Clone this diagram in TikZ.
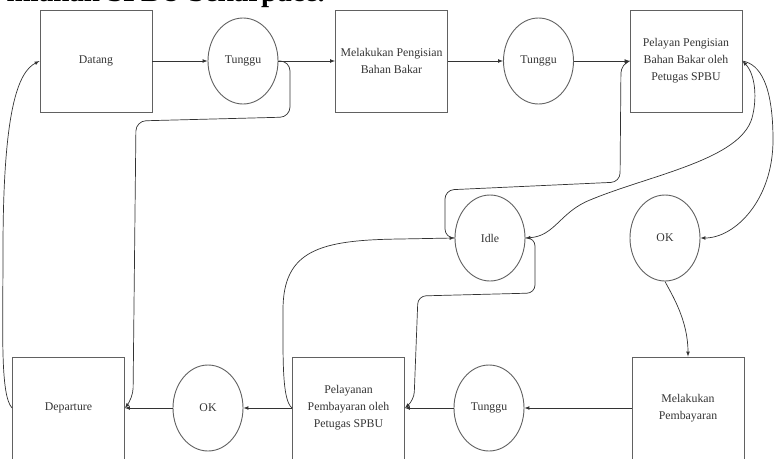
\documentclass[tikz,border=0pt]{standalone}
\usepackage{fontspec}
\setmainfont{Liberation Serif}
\usepackage{tikz}
\usetikzlibrary{shapes.geometric}
\definecolor{linegray}{rgb}{0.38,0.38,0.38}
\definecolor{textgray}{rgb}{0.2,0.2,0.2}

\begin{document}
\begin{tikzpicture}[x=1pt, y=-1pt,
    box/.style={draw=linegray, line width=0.9pt, minimum width=112pt, minimum height=102pt,
      inner sep=2pt, align=center, text=textgray, font=\fontsize{11.8}{17}\selectfont},
    state/.style={ellipse, draw=linegray, line width=0.9pt, minimum width=70pt, minimum height=86pt,
      inner sep=0pt, text=textgray, font=\fontsize{11.8}{17}\selectfont},
    flow/.style={-latex, draw=black!80, line width=0.7pt}]
    \useasboundingbox (0,0) rectangle (774,458);
    \clip (0,0) rectangle (774,458);

    %% Cut-off line of the page above
    \node[anchor=base east, inner sep=0pt, font=\fontsize{29}{30}\selectfont\bfseries] (caption) at (325,1) {mlahan SPBU Sekarpace.};

    %% Top row
    \node[box] (datang) at (96,61) {Datang};
    \node[state] (tunggu1) at (243,61) {Tunggu};
    \node[box] (isi) at (391.5,61) {Melakukan Pengisian\\Bahan Bakar};
    \node[state] (tunggu2) at (538.5,61) {Tunggu};
    \node[box] (pelayan) at (686,61) {Pelayan Pengisian\\Bahan Bakar oleh\\Petugas SPBU};

    %% Middle row
    \node[state] (idle) at (490,238) {Idle};
    \node[state] (okA) at (665,238) {OK};

    %% Bottom row
    \node[box] (departure) at (68.5,408) {Departure};
    \node[state] (okB) at (208,408) {OK};
    \node[box] (ppemb) at (348.5,408) {Pelayanan\\Pembayaran oleh\\Petugas SPBU};
    \node[state] (tunggu3) at (489,408) {Tunggu};
    \node[box] (mbayar) at (688,408) {Melakukan\\Pembayaran};

    %% Straight flows
    \draw[flow] (datang) -- (tunggu1);
    \draw[flow] (tunggu1) -- (isi);
    \draw[flow] (isi) -- (tunggu2);
    \draw[flow] (tunggu2) -- (pelayan);
    \draw[flow] (mbayar) -- (tunggu3);
    \draw[flow] (tunggu3) -- (ppemb);
    \draw[flow] (ppemb) -- (okB);
    \draw[flow] (okB) -- (departure);

    %% Curved flows
    \draw[flow, rounded corners=10pt] (tunggu1.east) -- (290,61) -- (290,117) -- (136,121) -- (133,398) -- (departure.east);
    \draw[flow] (departure.west) .. controls (0,395) and (3,330) .. (3,250) .. controls (3,110) and (18,72) .. (datang.west);
    \draw[flow, rounded corners=9pt] (idle.west) -- (445,238) -- (445,190) -- (620,182) -- (621,64) -- (pelayan.west);
    \draw[flow, latex-latex] (pelayan.east) .. controls (756,75) and (757,100) .. (752,118) .. controls (740,160) and (650,175) .. (590,200) .. controls (560,212) and (555,236) .. (idle.east);
    \draw[flow] (pelayan.east) .. controls (760,64) and (773,85) .. (773,140) .. controls (773,200) and (735,238) .. (okA.east);
    \draw[flow] (okA.south) .. controls (672,295) and (688,320) .. (mbayar.north);
    \draw[flow] (ppemb.west) .. controls (282,400) and (283,360) .. (283,310) .. controls (283,250) and (320,240) .. (400,239) -- (idle.west);
    \draw[flow, rounded corners=8pt] (idle.east) -- (535,238) -- (535,293) -- (418,296) -- (414,400) -- (ppemb.east);
  \end{tikzpicture}
\end{document}
